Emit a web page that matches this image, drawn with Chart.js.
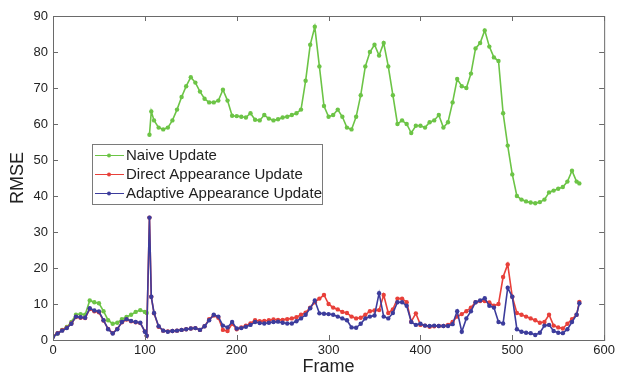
<!DOCTYPE html>
<html>
<head>
<meta charset="utf-8">
<script src="https://cdn.jsdelivr.net/npm/chart.js@4.4.1/dist/chart.umd.min.js"></script>
<style>
  html, body { margin: 0; padding: 0; background: #fff; }
  #wrap { width: 618px; height: 378px; }
</style>
</head>
<body>
<div id="wrap"><canvas id="myChart" width="618" height="378"></canvas></div>
<script>
// frame numbers (x values), shared by all three series
const frames = [
  0, 5, 10, 15, 20, 25, 30, 35, 40, 45, 50, 55, 60, 65, 70, 75, 80, 85, 90, 95, 100,
  102, 105, 107,
  110, 115, 120, 125, 130, 135, 140, 145, 150, 155,
  160, 165, 170, 175, 180, 185, 190, 195, 200, 205,
  210, 215, 220, 225, 230, 235, 240, 245, 250, 255,
  260, 265, 270, 275, 280, 285, 290, 295, 300, 305,
  310, 315, 320, 325, 330, 335, 340, 345, 350, 355,
  360, 365, 370, 375, 380, 385, 390, 395, 400, 405,
  410, 415, 420, 425, 430, 435, 440, 445, 450, 455,
  460, 465, 470, 475, 480, 485, 490, 495, 500, 505,
  510, 515, 520, 525, 530, 535, 540, 545, 550, 555,
  560, 565, 570, 573
];

const naiveUpdate = [
  1.0, 1.8, 2.8, 3.6, 5.0, 7.0, 7.2, 7.0, 11.0, 10.5, 10.2, 8.0, 5.5, 4.5, 4.8, 5.8, 6.4, 7.0, 7.8, 8.3, 7.8,
  7.5, 57.0, 63.5,
  61.0, 59.0, 58.5, 59.0, 61.0, 64.0, 67.5, 70.5, 73.0, 71.5,
  69.0, 67.0, 66.0, 66.0, 66.5, 69.5, 66.5, 62.3, 62.2, 62.0,
  61.8, 63.0, 61.2, 61.0, 62.5, 61.5, 61.0, 61.3, 61.8, 62.0,
  62.5, 63.0, 64.0, 72.0, 82.0, 87.0, 76.0, 65.0, 62.0, 62.5,
  64.0, 62.0, 59.0, 58.5, 62.0, 68.0, 76.0, 80.0, 82.0, 79.0,
  82.5, 76.0, 68.0, 60.0, 61.0, 60.0, 57.5, 59.5, 59.5, 59.0,
  60.5, 61.0, 62.5, 59.0, 60.5, 66.0, 72.5, 70.5, 70.0, 74.0,
  81.0, 82.5, 86.0, 81.5, 78.5, 77.5, 63.0, 54.0, 46.0, 40.0,
  39.0, 38.5, 38.2, 38.0, 38.3, 39.0, 41.0, 41.5, 42.0, 42.5,
  44.0, 47.0, 44.0, 43.5
];

const directUpdate = [
  1.0, 1.9, 2.7, 3.4, 4.6, 6.4, 6.2, 6.1, 8.6, 8.0, 7.7, 5.4, 3.1, 1.9, 3.1, 4.9, 5.7, 5.2, 4.9, 4.7, 2.4,
  1.2, 34.0, 12.0,
  7.4, 3.7, 2.6, 2.4, 2.5, 2.6, 2.8, 3.0, 3.2, 3.3,
  2.8, 3.8, 5.8, 6.8, 6.2, 2.8, 2.5, 4.5, 3.0, 3.5,
  4.0, 4.6, 5.5, 5.2, 5.3, 5.5, 5.7, 5.6, 5.6, 5.8,
  6.0, 6.3, 7.0, 7.6, 9.0, 10.5, 11.5, 12.5, 10.0, 9.0,
  8.5, 7.8, 7.5, 6.5, 6.0, 6.2, 7.0, 8.0, 8.2, 8.3,
  12.5, 7.5, 8.5, 11.5, 11.5, 10.5, 5.1, 7.4, 4.2, 4.0,
  3.7, 3.8, 3.9, 3.9, 4.2, 5.0, 6.5, 7.2, 8.0, 9.0,
  10.5, 10.8, 10.8, 10.4, 9.5, 10.0, 17.5, 21.0, 12.0, 7.5,
  7.0, 6.5, 6.0, 5.5, 4.8, 5.0, 7.0, 4.0, 3.5, 3.2,
  4.5, 5.8, 7.0, 10.6
];

const adaptiveUpdate = [
  0.9, 1.8, 2.6, 3.3, 4.5, 6.5, 6.3, 6.2, 8.8, 8.2, 7.9, 5.5, 3.0, 1.8, 3.0, 5.0, 5.8, 5.3, 5.0, 4.8, 2.3,
  1.2, 34.0, 12.0,
  7.5, 3.8, 2.6, 2.3, 2.5, 2.6, 2.8, 3.0, 3.2, 3.3,
  2.8, 3.8, 5.5, 7.0, 6.5, 4.0, 3.5, 5.0, 3.2, 3.3,
  3.7, 4.2, 5.0, 4.7, 4.6, 4.8, 5.0, 5.1, 4.8, 4.6,
  4.6, 5.2, 6.0, 7.0, 8.8, 11.0, 7.4, 7.3, 7.2, 7.0,
  6.5, 6.0, 5.5, 3.5, 3.4, 4.5, 6.0, 6.5, 6.8, 13.0,
  6.5, 6.0, 7.5, 10.5, 10.5, 9.5, 5.0, 4.2, 4.5, 4.0,
  3.9, 4.0, 3.9, 3.9, 3.9, 4.4, 8.0, 2.3, 6.0, 8.0,
  10.5, 11.0, 11.6, 9.5, 9.0, 5.0, 4.6, 14.5, 12.0, 3.0,
  2.3, 2.0, 1.9, 1.4, 2.0, 4.0, 4.2, 2.5, 2.0, 1.9,
  3.0, 5.0, 7.0, 10.2
];

const seriesNames = ["Naive Update", "Direct Appearance Update", "Adaptive Appearance Update"];
const seriesColors = ["#6cc446", "#e8403a", "#3c3c9c"];
const xTicks = [0, 100, 200, 300, 400, 500, 600];
const yTicks = [0, 10, 20, 30, 40, 50, 60, 70, 80, 90];

function toPoints(values) {
  return frames.map((f, i) => ({ x: f, y: values[i] }));
}

function makeSet(i, values) {
  return {
    label: seriesNames[i],
    data: toPoints(values),
    borderColor: seriesColors[i],
    backgroundColor: seriesColors[i],
    borderWidth: 1.6,
    pointRadius: 2.2,
    pointBorderWidth: 0,
    pointHoverRadius: 2.2,
    tension: 0,
    // later series are drawn on top (lower order = drawn last)
    order: 2 - i
  };
}

let naiveSet = makeSet(0, naiveUpdate);
// the naive curve restarts at frame 105, no joining line
naiveSet.segment = {
  borderColor: c => (c.p1.parsed.y - c.p0.parsed.y > 30 ? "rgba(0,0,0,0)" : undefined)
};

// box with inward ticks on all four sides, like the original figure
const boxPlugin = {
  id: "box",
  afterDatasetsDraw(chart) {
    const { ctx, chartArea: a, scales } = chart;
    ctx.save();
    ctx.strokeStyle = "#6a6a6a";
    ctx.lineWidth = 1;
    ctx.strokeRect(a.left + 0.5, a.top + 0.5, a.right - a.left, a.bottom - a.top);
    ctx.beginPath();
    xTicks.forEach(v => {
      let x = Math.round(scales.x.getPixelForValue(v)) + 0.5;
      ctx.moveTo(x, a.bottom); ctx.lineTo(x, a.bottom - 5);
      ctx.moveTo(x, a.top); ctx.lineTo(x, a.top + 5);
    });
    yTicks.forEach(v => {
      let y = Math.round(scales.y.getPixelForValue(v)) + 0.5;
      ctx.moveTo(a.left, y); ctx.lineTo(a.left + 5, y);
      ctx.moveTo(a.right, y); ctx.lineTo(a.right - 5, y);
    });
    ctx.stroke();
    ctx.restore();
  },
  afterDraw(chart) {
    const ctx = chart.ctx;
    const bx = 92, by = 144, bw = 230, bh = 60;
    ctx.save();
    ctx.fillStyle = "#fff";
    ctx.fillRect(bx, by, bw, bh);
    ctx.strokeStyle = "#7a7a7a";
    ctx.lineWidth = 1;
    ctx.strokeRect(bx + 0.5, by + 0.5, bw, bh);
    ctx.font = "15px 'Liberation Sans', Arial, sans-serif";
    ctx.textBaseline = "middle";
    chart.data.datasets.forEach((ds, i) => {
      let y = by + 11 + i * 19;
      ctx.strokeStyle = ds.borderColor;
      ctx.beginPath();
      ctx.moveTo(bx + 3, y + 0.5);
      ctx.lineTo(bx + 32, y + 0.5);
      ctx.stroke();
      ctx.fillStyle = ds.borderColor;
      ctx.beginPath();
      ctx.arc(bx + 17, y + 0.5, 2, 0, Math.PI * 2);
      ctx.fill();
      ctx.fillStyle = "#222";
      ctx.fillText(ds.label, bx + 34, y + 1);
    });
    ctx.restore();
  }
};

(function () {
  let ctx = document.getElementById("myChart").getContext("2d");
  let font = "'Liberation Sans', Arial, sans-serif";
  new Chart(ctx, {
    type: "line",
    data: {
      datasets: [naiveSet, makeSet(1, directUpdate), makeSet(2, adaptiveUpdate)]
    },
    options: {
      responsive: false,
      animation: false,
      layout: { autoPadding: false, padding: { top: 16, right: 11, left: 0, bottom: 0 } },
      plugins: { legend: { display: false }, tooltip: { enabled: false } },
      scales: {
        x: {
          type: "linear",
          min: 0,
          max: 600,
          afterFit: s => { s.height = 38; },
          afterBuildTicks: s => { s.ticks = xTicks.map(v => ({ value: v })); },
          grid: { display: false, drawTicks: false },
          border: { display: false },
          ticks: { padding: 3, color: "#222", font: { family: font, size: 13 }, maxRotation: 0 },
          title: { display: true, text: "Frame", color: "#222", padding: { top: 0, bottom: 0 },
                   font: { family: font, size: 18 } }
        },
        y: {
          min: 0,
          max: 90,
          afterFit: s => { s.width = 53; },
          afterBuildTicks: s => { s.ticks = yTicks.map(v => ({ value: v })); },
          grid: { display: false, drawTicks: false },
          border: { display: false },
          ticks: { padding: 5, color: "#222", font: { family: font, size: 13 } },
          title: { display: true, text: "RMSE", color: "#222", padding: { top: 7, bottom: 0 },
                   font: { family: font, size: 18 } }
        }
      }
    },
    plugins: [boxPlugin]
  });
})();
</script>
</body>
</html>
